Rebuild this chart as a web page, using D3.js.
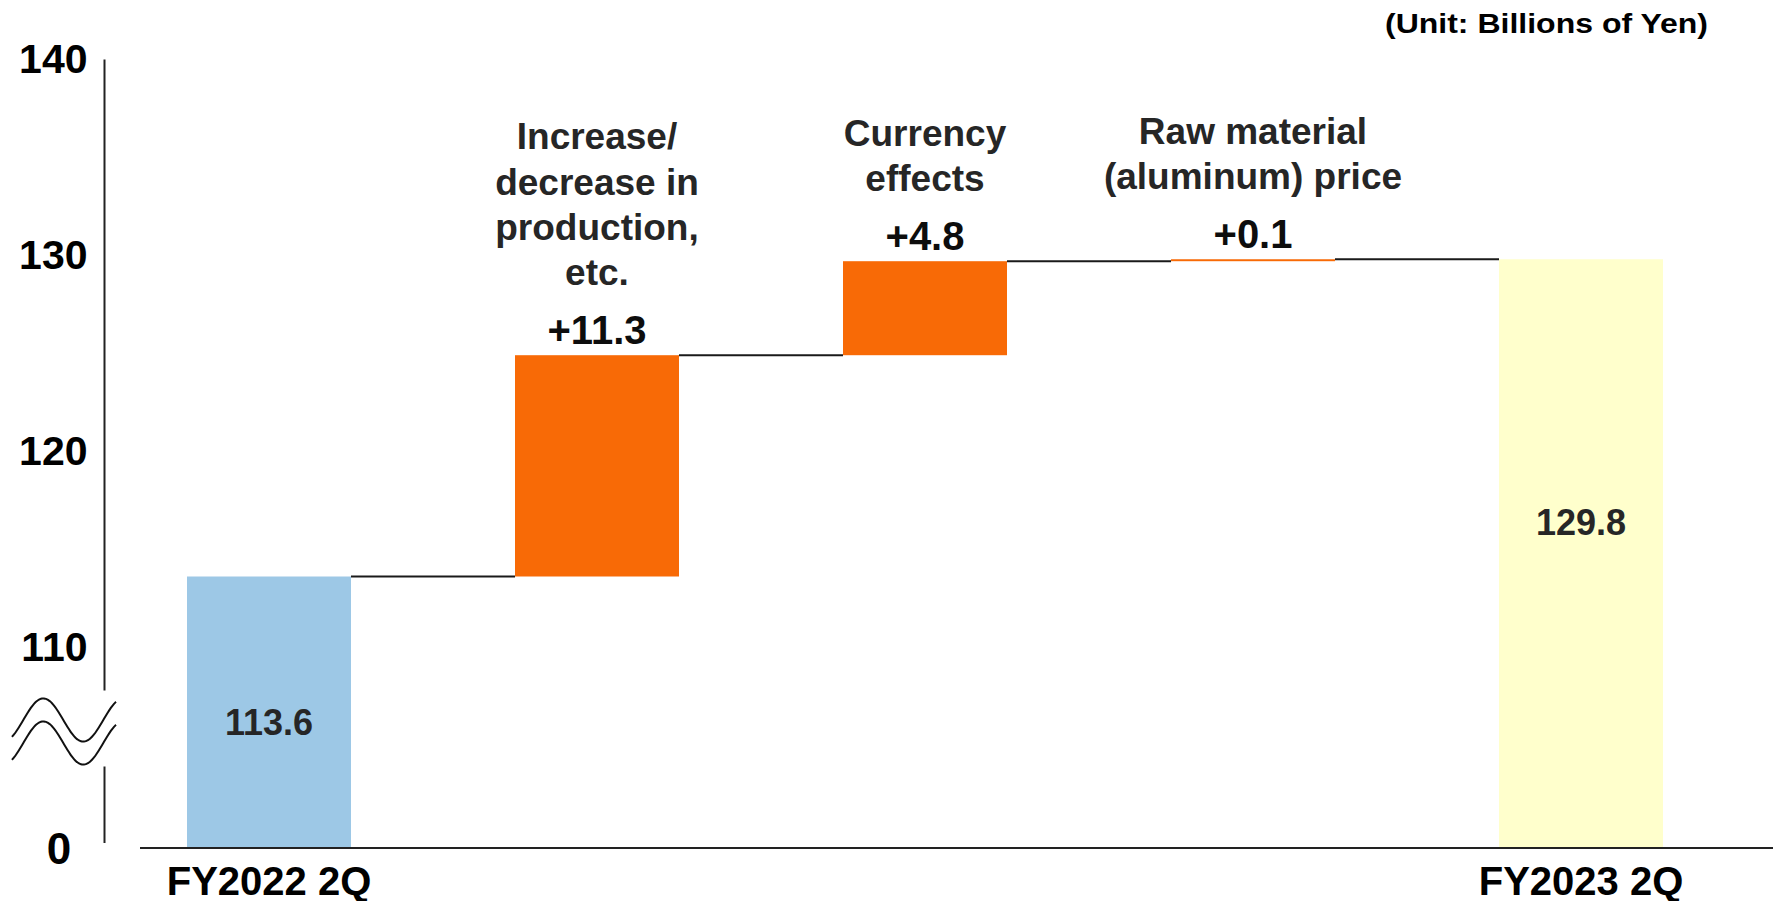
<!DOCTYPE html>
<html>
<head>
<meta charset="utf-8">
<script src="https://cdn.jsdelivr.net/npm/d3@7"></script>
<style>
  html, body { margin: 0; padding: 0; background: #fff; }
  svg { display: block; font-family: "Liberation Sans", Arial, sans-serif; font-weight: bold; }
</style>
</head>
<body>
<svg id="chart" width="1776" height="901"></svg>
<script>
// Operating income bridge, FY2022 2Q -> FY2023 2Q (billions of yen)
const categories = ["FY2022 2Q", "Production", "Currency", "Aluminum", "FY2023 2Q"];
const kinds = ["total", "step", "step", "step", "total"];
const startTotal = 113.6;
const stepChanges = [11.3, 4.8, 0.1];
const endTotal = 129.8;
const stepCaptions = [
  ["Increase/", "decrease in", "production,", "etc."],
  ["Currency", "effects"],
  ["Raw material", "(aluminum) price"]
];
const axisLabels = ["FY2022 2Q", "", "", "", "FY2023 2Q"];
const yTicks = [0, 110, 120, 130, 140];
const unitText = "(Unit: Billions of Yen)";

const colors = { start: "#9DC8E6", step: "#F86A06", end: "#FFFFCC" };

// Build waterfall segments
const bars = [];
let running = startTotal;
bars.push({ key: categories[0], kind: "total", lo: 0, hi: startTotal, value: startTotal, color: colors.start });
stepChanges.forEach((d, i) => {
  const lo = running;
  running = +(running + d).toFixed(1);
  bars.push({ key: categories[i + 1], kind: "step", lo: lo, hi: running, value: d, color: colors.step, caption: stepCaptions[i] });
});
bars.push({ key: categories[4], kind: "total", lo: 0, hi: endTotal, value: endTotal, color: colors.end });

const svg = d3.select("#chart");

const x = d3.scaleBand()
  .domain(categories)
  .range([105, 1745])
  .paddingInner(0.5)
  .paddingOuter(0.25);

// Broken value axis: baseline carries 0, the visible range runs 110..140
const y = d3.scaleLinear()
  .domain([0, 110, 140])
  .range([848, 647, 59.5]);

const bw = x.bandwidth();

// Bars
svg.append("g").selectAll("rect")
  .data(bars)
  .join("rect")
  .attr("x", d => x(d.key))
  .attr("width", bw)
  .attr("y", d => y(d.hi))
  .attr("height", d => y(d.lo) - y(d.hi))
  .attr("fill", d => d.color);

// Connectors between consecutive bars
const links = bars.slice(0, -1).map((d, i) => ({ from: d, to: bars[i + 1], level: d.hi }));
svg.append("g").selectAll("line")
  .data(links)
  .join("line")
  .attr("x1", d => x(d.from.key) + bw)
  .attr("x2", d => x(d.to.key))
  .attr("y1", d => y(d.level))
  .attr("y2", d => y(d.level))
  .attr("stroke", "#1a1a1a")
  .attr("stroke-width", 2);

// Category axis (baseline)
svg.append("line")
  .attr("x1", 140).attr("x2", 1773)
  .attr("y1", y(0)).attr("y2", y(0))
  .attr("stroke", "#222").attr("stroke-width", 2);

svg.append("g").selectAll("text")
  .data(categories)
  .join("text")
  .attr("x", d => x(d) + bw / 2)
  .attr("y", 895)
  .attr("text-anchor", "middle")
  .attr("font-size", 40)
  .attr("fill", "#000")
  .text((d, i) => axisLabels[i]);

// Value axis with labels only
const yAxis = svg.append("g")
  .attr("transform", "translate(104.5,0)")
  .call(d3.axisLeft(y).tickValues(yTicks).tickSize(0).tickPadding(17).tickFormat(d3.format("d")));
yAxis.select(".domain").remove();
yAxis.selectAll("text")
  .attr("font-family", "\"Liberation Sans\", Arial, sans-serif")
  .attr("font-weight", "bold")
  .attr("font-size", 41)
  .attr("fill", "#000");
yAxis.selectAll(".tick").filter(d => d === 0).select("text")
  .attr("text-anchor", "middle")
  .attr("x", -45.5)
  .attr("dy", "0.36em")
  .attr("font-size", 44);

// Axis line, interrupted by the break mark
const breakCenter = 731.5;
const axisLine = svg.append("g").attr("stroke", "#222").attr("stroke-width", 2);
axisLine.append("line").attr("x1", 104.5).attr("x2", 104.5).attr("y1", y(140)).attr("y2", breakCenter - 41);
axisLine.append("line").attr("x1", 104.5).attr("x2", 104.5).attr("y1", breakCenter + 35).attr("y2", 843);

// Break mark: two parallel waves
const wave = d3.line().curve(d3.curveBasis);
[-11.5, 11.5].forEach(off => {
  const pts = d3.range(12, 116.5, 2).map(px => [px, breakCenter + off - 21.7 * Math.cos(Math.PI * (px - 43.3) / 40)]);
  svg.append("path")
    .attr("d", wave(pts))
    .attr("fill", "none")
    .attr("stroke", "#111")
    .attr("stroke-width", 2);
});

// Value labels on step bars
const steps = bars.filter(d => d.kind === "step");
svg.append("g").selectAll("text")
  .data(steps)
  .join("text")
  .attr("x", d => x(d.key) + bw / 2)
  .attr("y", d => y(d.hi) - 11)
  .attr("text-anchor", "middle")
  .attr("font-size", 40)
  .attr("fill", "#0d0d0d")
  .text(d => d3.format("+.1f")(d.value));

// Captions above step bars
const lineGap = 45.3;
steps.forEach(d => {
  const lastBase = y(d.hi) - 70;
  const n = d.caption.length;
  svg.append("text")
    .attr("text-anchor", "middle")
    .attr("font-size", 37)
    .attr("fill", "#262626")
    .selectAll("tspan")
    .data(d.caption)
    .join("tspan")
    .attr("x", x(d.key) + bw / 2)
    .attr("y", (t, j) => lastBase - (n - 1 - j) * lineGap)
    .text(t => t);
});

// Totals written inside their bars
const totals = bars.filter(d => d.kind === "total");
const totalShift = [22.5, -18.7];
svg.append("g").selectAll("text")
  .data(totals)
  .join("text")
  .attr("x", d => x(d.key) + bw / 2)
  .attr("y", (d, i) => (y(d.hi) + y(0)) / 2 + totalShift[i])
  .attr("text-anchor", "middle")
  .attr("font-size", 36)
  .attr("fill", "#262626")
  .text(d => d3.format(".1f")(d.value));

// Unit note
svg.append("text")
  .attr("x", 1708)
  .attr("y", 33)
  .attr("text-anchor", "end")
  .attr("font-size", 28)
  .attr("textLength", 323)
  .attr("lengthAdjust", "spacingAndGlyphs")
  .attr("fill", "#000")
  .text(unitText);
</script>
</body>
</html>
